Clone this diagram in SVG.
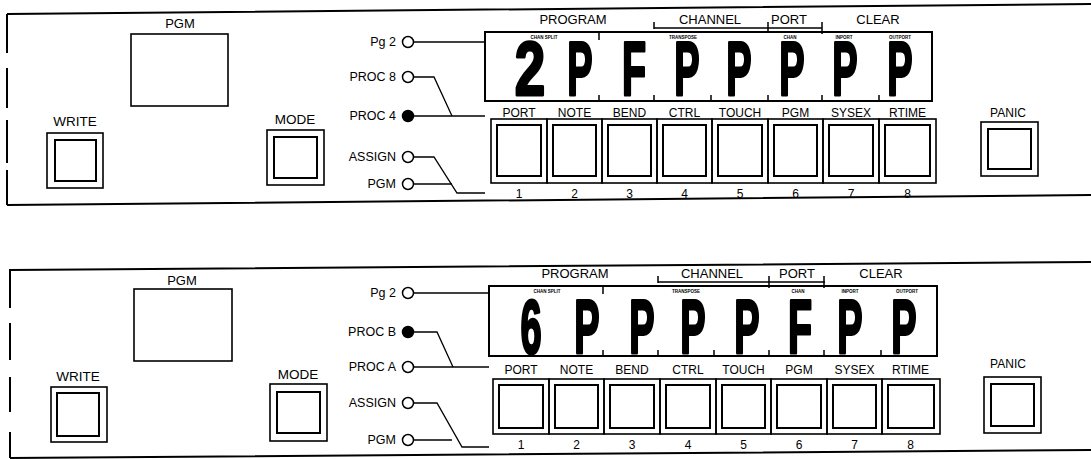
<svg xmlns="http://www.w3.org/2000/svg" width="1091" height="459" viewBox="0 0 1091 459">
<style>
  .frame{fill:none;stroke:#000;stroke-width:2}
  .box{fill:none;stroke:#000;stroke-width:1.6}
  .inner{fill:none;stroke:#000;stroke-width:2}
  .disp{fill:none;stroke:#000;stroke-width:2}
  .tick{fill:none;stroke:#000;stroke-width:1.5}
  .led{fill:#fff;stroke:#000;stroke-width:1.5}
  .ledon{fill:#000;stroke:#000;stroke-width:1.5}
  .conn{fill:none;stroke:#000;stroke-width:1.3}
  text{font-family:"Liberation Sans",Arial,sans-serif;fill:#000}
  .lbl{font-size:12px;text-anchor:middle}
  .big{font-size:13px;text-anchor:middle}
  .ledl{font-size:12.5px;text-anchor:end}
  .tiny{font-size:4.5px;font-weight:bold;text-anchor:middle}
  .seg{font-size:76px;font-weight:bold;text-anchor:middle;stroke:#000;stroke-width:3;stroke-linejoin:round}
</style>
<rect width="1091" height="459" fill="#fff"/>

<!-- ================= TOP PANEL ================= -->
<g id="panel-top">
  <g id="top-frame">
    <path class="frame" d="M7,14 L1091,4 M7,205 L1091,195 M7,14 V53 M7,68 V108 M7,120 V163 M7,170 V205"/>
  </g>
  <g id="top-pgm-display">
    <text class="big" x="180" y="28">PGM</text>
    <rect class="box" x="131" y="34" width="97" height="72"/>
  </g>
  <g id="top-write">
    <text class="big" x="75" y="126" style="font-size:13.5px">WRITE</text>
    <rect class="box" x="47" y="133" width="56" height="55"/>
    <rect class="inner" x="55" y="140" width="41" height="41"/>
  </g>
  <g id="top-mode">
    <text class="big" x="295" y="124" style="font-size:13.5px">MODE</text>
    <rect class="box" x="267" y="130" width="57" height="55"/>
    <rect class="inner" x="274" y="137" width="43" height="41"/>
  </g>
  <g id="top-leds">
    <g id="top-led-pg2"><text class="ledl" x="396" y="46">Pg 2</text><circle class="led" cx="408" cy="42" r="5.5"/></g>
    <g id="top-led-procb"><text class="ledl" x="396" y="81">PROC 8</text><circle class="led" cx="408" cy="77" r="5.5"/></g>
    <g id="top-led-proca"><text class="ledl" x="396" y="120">PROC 4</text><circle class="ledon" cx="408" cy="116" r="5.5"/></g>
    <g id="top-led-assign"><text class="ledl" x="396" y="161">ASSIGN</text><circle class="led" cx="408" cy="157" r="5.5"/></g>
    <g id="top-led-pgm"><text class="ledl" x="396" y="188">PGM</text><circle class="led" cx="408" cy="184" r="5.5"/></g>
  </g>
  <g id="top-lcd">
    <text class="big" x="573" y="24">PROGRAM</text>
    <text class="big" x="710" y="24">CHANNEL</text>
    <text class="big" x="789" y="24">PORT</text>
    <text class="big" x="878" y="24">CLEAR</text>
    <path class="tick" d="M654,28 H822 M654,22 V29 M768,22 V33 M822,22 V34"/>
    <rect class="disp" x="485" y="32" width="447" height="69"/>
    <path class="tick" d="M599,32 V40 M599,95 V101 M654,95 V101 M711,95 V101 M768,95 V101 M822,95 V101 M879,95 V101"/>
    <text class="tiny" x="544" y="39">CHAN SPLIT</text>
    <text class="tiny" x="683" y="39">TRANSPOSE</text>
    <text class="tiny" x="790" y="39">CHAN</text>
    <text class="tiny" x="844" y="39">INPORT</text>
    <text class="tiny" x="900" y="39">OUTPORT</text>
    <text class="seg" transform="translate(530,95) scale(0.72,1)">2</text>
    <text class="seg" transform="translate(580,95) scale(0.5,1)">P</text>
    <text class="seg" transform="translate(634,95) scale(0.52,1)">F</text>
    <text class="seg" transform="translate(687,95) scale(0.5,1)">P</text>
    <text class="seg" transform="translate(739,95) scale(0.5,1)">P</text>
    <text class="seg" transform="translate(792,95) scale(0.5,1)">P</text>
    <text class="seg" transform="translate(845,95) scale(0.5,1)">P</text>
    <text class="seg" transform="translate(900,95) scale(0.5,1)">P</text>
  </g>
  <g id="top-buttons">
    <g id="top-btn1"><text class="lbl" x="519" y="117">PORT</text><rect class="box" x="491" y="119" width="56" height="64"/><rect class="inner" x="497" y="125" width="44" height="51"/><text class="lbl" x="519" y="198">1</text></g>
    <g id="top-btn2"><text class="lbl" x="574.5" y="117">NOTE</text><rect class="box" x="547" y="119" width="55" height="64"/><rect class="inner" x="553" y="125" width="43" height="51"/><text class="lbl" x="574.5" y="198">2</text></g>
    <g id="top-btn3"><text class="lbl" x="629.5" y="117">BEND</text><rect class="box" x="602" y="119" width="55" height="64"/><rect class="inner" x="608" y="125" width="43" height="51"/><text class="lbl" x="629.5" y="198">3</text></g>
    <g id="top-btn4"><text class="lbl" x="684.5" y="117">CTRL</text><rect class="box" x="657" y="119" width="55" height="64"/><rect class="inner" x="663" y="125" width="43" height="51"/><text class="lbl" x="684.5" y="198">4</text></g>
    <g id="top-btn5"><text class="lbl" x="740" y="117">TOUCH</text><rect class="box" x="712" y="119" width="56" height="64"/><rect class="inner" x="718" y="125" width="44" height="51"/><text class="lbl" x="740" y="198">5</text></g>
    <g id="top-btn6"><text class="lbl" x="795.5" y="117">PGM</text><rect class="box" x="768" y="119" width="55" height="64"/><rect class="inner" x="774" y="125" width="43" height="51"/><text class="lbl" x="795.5" y="198">6</text></g>
    <g id="top-btn7"><text class="lbl" x="851" y="117">SYSEX</text><rect class="box" x="823" y="119" width="56" height="64"/><rect class="inner" x="829" y="125" width="44" height="51"/><text class="lbl" x="851" y="198">7</text></g>
    <g id="top-btn8"><text class="lbl" x="907.5" y="117">RTIME</text><rect class="box" x="879" y="119" width="57" height="64"/><rect class="inner" x="885" y="125" width="45" height="51"/><text class="lbl" x="907.5" y="198">8</text></g>
  </g>
  <g id="top-panic">
    <text class="lbl" x="1008" y="117">PANIC</text>
    <rect class="box" x="981" y="122" width="57" height="54"/>
    <rect class="inner" x="988" y="129" width="43" height="40"/>
  </g>
</g>

<!-- ================= BOTTOM PANEL ================= -->
<g id="panel-bottom">
  <g id="bot-frame">
    <path class="frame" d="M10,270 L1091,262 M10,458 L1091,450 M10,269 V308 M10,323 V360 M10,377 V412 M10,432 V458"/>
  </g>
  <g id="bot-pgm-display">
    <text class="big" x="182" y="285">PGM</text>
    <rect class="box" x="134" y="289" width="98" height="72"/>
  </g>
  <g id="bot-write">
    <text class="big" x="78" y="381" style="font-size:13.5px">WRITE</text>
    <rect class="box" x="51" y="387" width="56" height="55"/>
    <rect class="inner" x="57" y="393" width="42" height="43"/>
  </g>
  <g id="bot-mode">
    <text class="big" x="298" y="379" style="font-size:13.5px">MODE</text>
    <rect class="box" x="270" y="384" width="57" height="57"/>
    <rect class="inner" x="277" y="392" width="43" height="41"/>
  </g>
  <g id="bot-leds">
    <g id="bot-led-pg2"><text class="ledl" x="396" y="297">Pg 2</text><circle class="led" cx="408" cy="293" r="5.5"/></g>
    <g id="bot-led-procb"><text class="ledl" x="396" y="336">PROC B</text><circle class="ledon" cx="408" cy="332" r="5.5"/></g>
    <g id="bot-led-proca"><text class="ledl" x="396" y="371">PROC A</text><circle class="led" cx="408" cy="367" r="5.5"/></g>
    <g id="bot-led-assign"><text class="ledl" x="396" y="407">ASSIGN</text><circle class="led" cx="408" cy="403" r="5.5"/></g>
    <g id="bot-led-pgm"><text class="ledl" x="396" y="444">PGM</text><circle class="led" cx="408" cy="440" r="5.5"/></g>
  </g>
  <g id="bot-lcd">
    <text class="big" x="575" y="278">PROGRAM</text>
    <text class="big" x="712" y="278">CHANNEL</text>
    <text class="big" x="797" y="278">PORT</text>
    <text class="big" x="881" y="278">CLEAR</text>
    <path class="tick" d="M658,282 H825 M658,276 V283 M769,276 V288 M824,276 V288"/>
    <rect class="disp" x="489" y="286" width="448" height="70"/>
    <path class="tick" d="M603,286 V294 M603,350 V356 M658,350 V356 M714,350 V356 M769,350 V356 M824,350 V356 M881,350 V356"/>
    <text class="tiny" x="547" y="293">CHAN SPLIT</text>
    <text class="tiny" x="686" y="293">TRANSPOSE</text>
    <text class="tiny" x="798" y="293">CHAN</text>
    <text class="tiny" x="850" y="293">INPORT</text>
    <text class="tiny" x="907" y="293">OUTPORT</text>
    <text class="seg" transform="translate(531,353) scale(0.5,1)">6</text>
    <text class="seg" transform="translate(587,353) scale(0.5,1)">P</text>
    <text class="seg" transform="translate(642,353) scale(0.5,1)">P</text>
    <text class="seg" transform="translate(693,353) scale(0.5,1)">P</text>
    <text class="seg" transform="translate(747,353) scale(0.5,1)">P</text>
    <text class="seg" transform="translate(800,353) scale(0.52,1)">F</text>
    <text class="seg" transform="translate(850,353) scale(0.5,1)">P</text>
    <text class="seg" transform="translate(904,353) scale(0.5,1)">P</text>
  </g>
  <g id="bot-buttons">
    <g id="bot-btn1"><text class="lbl" x="521" y="374">PORT</text><rect class="box" x="493" y="379" width="56" height="55"/><rect class="inner" x="499" y="385" width="44" height="43"/><text class="lbl" x="521" y="449">1</text></g>
    <g id="bot-btn2"><text class="lbl" x="576.5" y="374">NOTE</text><rect class="box" x="549" y="379" width="55" height="55"/><rect class="inner" x="555" y="385" width="43" height="43"/><text class="lbl" x="576.5" y="449">2</text></g>
    <g id="bot-btn3"><text class="lbl" x="632" y="374">BEND</text><rect class="box" x="604" y="379" width="56" height="55"/><rect class="inner" x="610" y="385" width="44" height="43"/><text class="lbl" x="632" y="449">3</text></g>
    <g id="bot-btn4"><text class="lbl" x="688" y="374">CTRL</text><rect class="box" x="660" y="379" width="56" height="55"/><rect class="inner" x="666" y="385" width="44" height="43"/><text class="lbl" x="688" y="449">4</text></g>
    <g id="bot-btn5"><text class="lbl" x="743.5" y="374">TOUCH</text><rect class="box" x="716" y="379" width="55" height="55"/><rect class="inner" x="722" y="385" width="43" height="43"/><text class="lbl" x="743.5" y="449">5</text></g>
    <g id="bot-btn6"><text class="lbl" x="799" y="374">PGM</text><rect class="box" x="771" y="379" width="56" height="55"/><rect class="inner" x="777" y="385" width="44" height="43"/><text class="lbl" x="799" y="449">6</text></g>
    <g id="bot-btn7"><text class="lbl" x="854.5" y="374">SYSEX</text><rect class="box" x="827" y="379" width="55" height="55"/><rect class="inner" x="833" y="385" width="43" height="43"/><text class="lbl" x="854.5" y="449">7</text></g>
    <g id="bot-btn8"><text class="lbl" x="910.5" y="374">RTIME</text><rect class="box" x="882" y="379" width="58" height="55"/><rect class="inner" x="888" y="385" width="46" height="43"/><text class="lbl" x="910.5" y="449">8</text></g>
  </g>
  <g id="bot-panic">
    <text class="lbl" x="1008" y="368">PANIC</text>
    <rect class="box" x="984" y="377" width="57" height="56"/>
    <rect class="inner" x="991" y="384" width="43" height="42"/>
  </g>
</g>

<!-- ================= CONNECTORS ================= -->
<g id="connectors">
  <path class="conn" d="M414,42 H485"/>
  <path class="conn" d="M414,77 H434 L452,116"/>
  <path class="conn" d="M414,116 H485"/>
  <path class="conn" d="M414,157 H434 L457,193 H485"/>
  <path class="conn" d="M414,184 H452"/>
  <path class="conn" d="M414,293 H489"/>
  <path class="conn" d="M414,332 H437 L453,367"/>
  <path class="conn" d="M414,367 H489"/>
  <path class="conn" d="M414,403 H437 L462,447 H489"/>
  <path class="conn" d="M414,440 H452"/>
</g>
</svg>
